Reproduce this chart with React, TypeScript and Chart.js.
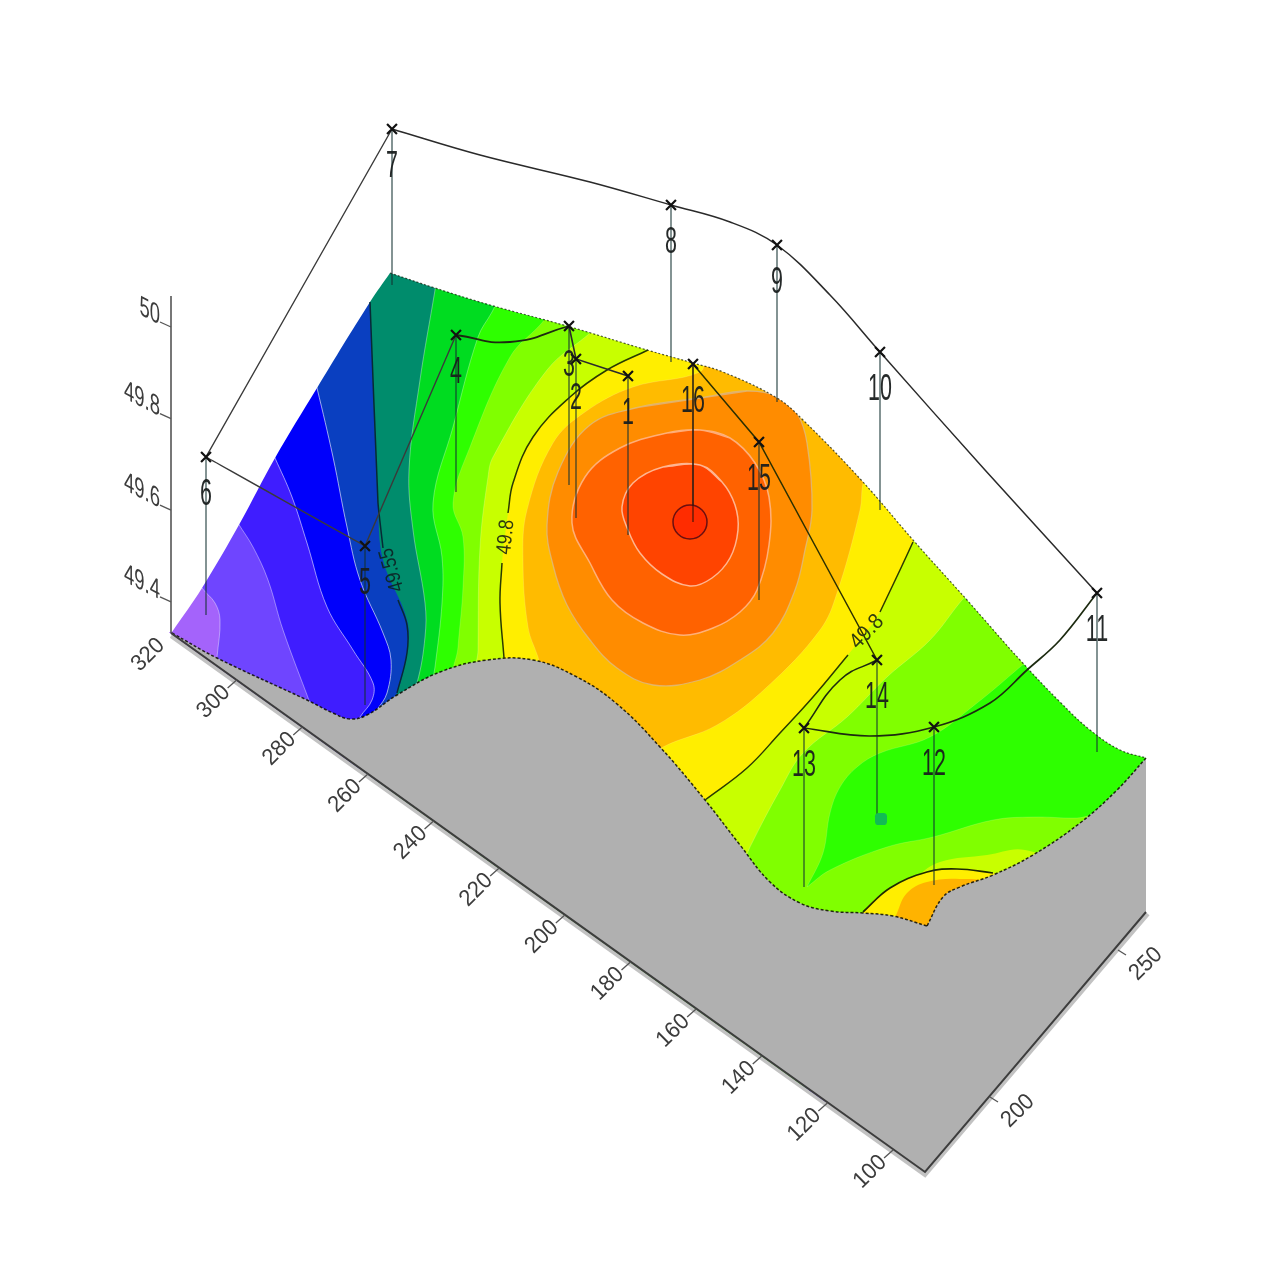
import React, { useEffect, useRef } from "react";
import { Chart, registerables } from "chart.js";

Chart.register(...registerables);

type P = number[];

// ---- Surface outline (projected survey plane) ----
const leftEdge: P[] = [[172, 632], [202, 588], [240, 523], [275, 458], [317, 388], [370, 302], [390, 273]];
const topEdge: P[] = [[390, 273], [435, 288], [490, 305], [567, 326], [647, 350], [693, 363], [723, 372], [777, 398], [803, 420], [863, 482], [913, 540], [967, 600], [1020, 660], [1060, 702], [1090, 730], [1120, 750], [1146, 758]];
const frontEdgeA: P[] = [[172, 633], [217, 658], [307, 700], [333, 713], [350, 719], [367, 715], [397, 695], [440, 672], [487, 660], [533, 660], [577, 677], [617, 704], [660, 747], [705, 800], [740, 845], [770, 882], [800, 903], [830, 911], [863, 913], [893, 916], [927, 926]];
const frontEdgeB: P[] = [[927, 926], [943, 897], [960, 887], [993, 875], [1033, 855], [1080, 823], [1117, 790], [1146, 758]];

// ---- Filled contour bands, lowest level first ----
const plateBand: P[] = [[100, 200], [1200, 200], [1200, 1000], [100, 1000]];
const violetLine: P[] = [[195, 575], [202, 588], [215, 603], [220, 620], [217, 657], [215, 675]];
const indigoLine: P[] = [[228, 505], [238, 523], [253, 547], [268, 580], [283, 630], [310, 703], [318, 725]];
const blueLine: P[] = [[268, 443], [275, 458], [292, 497], [307, 543], [327, 607], [353, 650], [373, 683], [372, 700], [360, 717], [350, 735]];
const navyLine: P[] = [[312, 370], [317, 388], [333, 457], [347, 527], [360, 580], [383, 633], [391, 660], [387, 693], [377, 710], [365, 730]];
const tealLine: P[] = [[369, 280], [370, 302], [378, 503], [383, 560], [407, 620], [407, 653], [397, 693], [385, 715]];
const greenLine: P[] = [[438, 270], [435, 290], [420, 380], [409, 470], [413, 530], [425, 603], [425, 637], [417, 683], [405, 710]];
const brightLine: P[] = [[498, 300], [492, 312], [478, 337], [453, 427], [433, 503], [442, 557], [442, 603], [435, 667], [430, 700]];
const limeBand: P[] = [[548, 315], [540, 325], [510, 357], [470, 447], [453, 503], [463, 537], [463, 587], [458, 647], [455, 690], [700, 1000], [1120, 1000], [1115, 815], [1077, 818], [1033, 817], [993, 820], [933, 837], [887, 847], [830, 870], [807, 887], [807, 887], [823, 853], [830, 813], [840, 787], [857, 767], [880, 753], [930, 737], [977, 703], [1020, 667], [1045, 645], [1060, 200], [548, 200]];
const yellowGreenBand: P[] = [[598, 325], [590, 333], [547, 370], [493, 457], [488, 477], [480, 547], [478, 650], [478, 690], [730, 890], [750, 847], [780, 790], [803, 753], [847, 717], [887, 677], [930, 640], [962, 600], [985, 575], [985, 300], [598, 300]];
const yellowGreenBump: P[] = [[880, 925], [887, 910], [917, 877], [940, 862], [987, 855], [1025, 850], [1060, 870], [1000, 960], [880, 960]];
const contour498A: P[] = [[648, 350], [607, 370], [570, 397], [533, 437], [513, 483], [508, 513]];
const contour498B: P[] = [[502, 563], [500, 603], [504, 658]];
const contour498C: P[] = [[705, 800], [747, 768], [780, 733], [813, 697], [848, 655]];
const contour498D: P[] = [[880, 612], [900, 570], [913, 542]];
const contour498Bump: P[] = [[863, 912], [890, 888], [927, 872], [957, 869], [993, 873]];
const contour4955: P[] = [[370, 302], [378, 503], [383, 548]];
const contour4955B: P[] = [[398, 600], [407, 625], [407, 653], [397, 693]];
const yellowBand: P[] = [[655, 340], [648, 350], [607, 370], [570, 397], [533, 437], [513, 483], [508, 513], [502, 563], [500, 603], [504, 658], [508, 680], [695, 812], [705, 800], [747, 768], [780, 733], [813, 697], [848, 655], [880, 612], [900, 570], [913, 542], [925, 515], [925, 300], [655, 300]];
const yellowBump: P[] = [[860, 925], [863, 912], [890, 888], [927, 872], [957, 869], [993, 873], [1010, 885], [960, 960], [860, 960]];
const amberBand: P[] = [[705, 355], [700, 372], [633, 387], [585, 412], [553, 443], [527, 510], [523, 560], [528, 627], [538, 657], [545, 680], [650, 760], [663, 747], [717, 725], [767, 687], [820, 630], [837, 593], [860, 510], [863, 483], [870, 465], [870, 350], [705, 340]];
const amberBump: P[] = [[893, 925], [897, 913], [907, 893], [927, 882], [960, 879], [985, 885], [960, 960], [893, 960]];
const orangeBand: P[] = [[700, 398], [640, 407], [590, 425], [558, 472], [547, 525], [553, 565], [567, 605], [590, 640], [617, 668], [653, 685], [700, 680], [740, 660], [773, 633], [795, 590], [805, 550], [812, 510], [807, 443], [797, 413], [780, 397], [747, 391]];
const darkOrangeBand: P[] = [[700, 430], [667, 433], [620, 448], [585, 477], [572, 523], [590, 563], [612, 600], [643, 623], [680, 635], [713, 628], [740, 612], [757, 590], [769, 545], [769, 497], [755, 463], [730, 438]];
const redOrangeBand: P[] = [[700, 465], [663, 467], [633, 483], [622, 507], [628, 530], [640, 553], [662, 574], [690, 586], [712, 578], [730, 558], [738, 530], [735, 505], [722, 482]];

// ---- Peak marker ----
const peakX = [690];
const peakY = [522];

// ---- Survey stations: label, position of the cross, foot on the surface ----
const stationLabels = ["1", "2", "3", "4", "5", "6", "7", "8", "9", "10", "11", "12", "13", "14", "15", "16"];
const stationX = [628, 576, 569, 456, 365, 206, 392, 671, 777, 880, 1097, 934, 804, 877, 759, 693];
const stationY = [376, 359, 326, 335, 546, 457, 129, 205, 245, 352, 593, 727, 728, 660, 442, 364];
const stationFootY = [535, 518, 485, 492, 705, 615, 285, 362, 402, 510, 752, 885, 887, 818, 600, 522];

// ---- Route between stations ----
const routeStraightA: P[] = [[628, 376], [576, 359], [569, 326]];
const routeCurveA: P[] = [[569, 326], [510, 342], [456, 335]];
const routeStraightB: P[] = [[456, 335], [365, 546], [206, 457], [392, 129]];
const routeCurveB: P[] = [[392, 129], [480, 155], [590, 182], [671, 205], [730, 222], [777, 245], [830, 295], [880, 352], [985, 470], [1097, 593]];
const routeCurveC: P[] = [[1097, 593], [1060, 640], [1027, 670], [990, 703], [934, 727], [870, 736], [804, 728]];
const routeCurveD: P[] = [[804, 728], [840, 680], [877, 660]];
const routeStraightC: P[] = [[877, 660], [759, 442], [693, 364]];
const footMarkerX = [881];
const footMarkerY = [819];

// ---- Axes ----
const xTickValues = [320, 300, 280, 260, 240, 220, 200, 180, 160, 140, 120, 100];
const yTickValues = [250, 200];
const zTickValues = ["50", "49.8", "49.6", "49.4"];
const contourLabels = ["49.8", "49.8", "49.55"];

const toPts = (p: P[]) => p.map(([x, y]) => ({ x, y }));
const dup = (p: P[]) => [p[0], ...p.slice(0, -1), p[p.length - 1], p[p.length - 1]];
const closeRight = (p: P[]): P[] => [...p, [p[p.length - 1][0], 1000], [1200, 1000], [1200, 150], [p[0][0], 150]];
const loop = (p: P[]): P[] => [p[p.length - 1], ...p, p[0], p[1]];

const area = (path: P[], color: string, stroke = "rgba(255,255,255,0)", width = 1, tension = 0.38) => ({
  data: toPts(path), fill: "shape", backgroundColor: color, borderColor: stroke, borderWidth: width, pointRadius: 0, tension,
});
const line = (path: P[], color: string, width = 1.3, tension = 0.4, dash: number[] = []) => ({
  data: toPts(path), fill: false, borderColor: color, borderWidth: width, pointRadius: 0, tension, borderDash: dash,
});

const xAxisPoint = (v: number) => [171 + ((320 - v) / 20) * 65.64, 633 + ((320 - v) / 20) * 47];
const yAxisPoint = (v: number) => [990 + ((v - 200) / 50) * 128, 1097 - ((v - 200) / 50) * 147];
const zAxisY = (s: string) => 327 + (50 - Number(s)) * 458;

function buildDatasets() {
  const whiteA: P[] = [[0, 0], [0, 0], [0, 632], [0, 632], ...dup(leftEdge), ...dup(topEdge), [1280, 758], [1280, 758], [1280, 0], [1280, 0]];
  const whiteB: P[] = [[0, 628], [0, 628], [165, 628], [165, 628], [171, 634], [171, 634], [925, 1173], [925, 1173], [1146, 912], [1146, 912], [1146, 757], [1146, 757], [1280, 757], [1280, 757], [1280, 1280], [1280, 1280], [0, 1280], [0, 1280]];
  const gray: P[] = [[171, 633], [171, 633], [925, 1172], [925, 1172], [1147, 912], [1147, 912], [1147, 758], [1147, 758],
    ...[...frontEdgeB].reverse(), [927, 926], ...[...frontEdgeA].reverse(), [171, 633]];

  const sets: any[] = [
    area(plateBand, "#a463fb", undefined, 0, 0),
    area(closeRight(violetLine), "#6f45ff", "rgba(255,255,255,.4)"),
    area(closeRight(indigoLine), "#3f1dff", "rgba(255,255,255,.4)"),
    area(closeRight(blueLine), "#0000fb", "rgba(255,255,255,.55)"),
    area(closeRight(navyLine), "#0a3fc0", "rgba(255,255,255,.6)"),
    area(closeRight(tealLine), "#008c6c"),
    area(closeRight(greenLine), "#00dc20", "rgba(255,255,255,.35)"),
    area(closeRight(brightLine), "#2eff00", "rgba(255,255,255,.3)"),
    area(limeBand, "#80ff00", "rgba(255,255,255,.15)"),
    area(yellowGreenBand, "#c8ff00", "rgba(255,255,255,.2)"),
    area(yellowGreenBump, "#c8ff00"),
    area(yellowBand, "#ffee00"),
    area(yellowBump, "#ffee00"),
    area(amberBand, "#ffbb00", "rgba(255,255,255,.15)"),
    area(amberBump, "#ffb300"),
    area(loop(orangeBand), "#ff8c00", "rgba(215,190,150,.7)", 1.3),
    area(loop(darkOrangeBand), "#ff6200", "rgba(255,190,150,.8)", 1.5),
    area(loop(redOrangeBand), "#ff4400", "rgba(255,200,170,.85)", 1.5),
    area(whiteA, "#ffffff", undefined, 0),
    area(gray, "#b0b0b0", undefined, 0),
    area(whiteB, "#ffffff", undefined, 0),
    line(topEdge, "rgba(10,20,0,.7)", 1.2, 0.4, [2, 2]),
    line(frontEdgeA, "rgba(10,10,0,.85)", 1.5, 0.4, [3, 2]),
    line(frontEdgeB, "rgba(10,10,0,.85)", 1.5, 0.4, [3, 2]),
    line(contour498A, "#2a3a00", 1.5),
    line(contour498B, "#2a3a00", 1.5),
    line(contour498C, "#2a3a00", 1.5),
    line(contour498D, "#2a3a00", 1.5),
    line(contour498Bump, "#1d2a00", 1.7),
    line(contour4955, "#072a35", 1.5, 0.1),
    line(contour4955B, "#072a35", 1.5),
  ];

  // Axis lines and ticks
  sets.push(line([[171, 296], [171, 633]], "#555555", 1.6, 0.001));
  sets.push(line([[171, 636], [925, 1175], [1148, 914]], "rgba(120,120,120,.45)", 4, 0.001));
  sets.push(line([[171, 633], [925, 1172], [1146, 912]], "#3d3d3d", 2, 0.001));
  xTickValues.forEach((v) => {
    const [x, y] = xAxisPoint(v);
    if (v !== 320) sets.push(line([[x, y], [x - 9, y + 8]], "#555555", 1.3, 0.001));
  });
  yTickValues.forEach((v) => {
    const [x, y] = yAxisPoint(v);
    sets.push(line([[x, y], [x + 8, y + 5]], "#555555", 1.3, 0.001));
  });
  zTickValues.forEach((s) => {
    const y = zAxisY(s);
    sets.push(line([[171, y], [160, y - 5]], "#555555", 1.3, 0.001));
  });

  // Drop lines
  stationX.forEach((x, i) => {
    sets.push(line([[x, stationY[i]], [x, stationFootY[i]]], "rgba(20,50,50,.75)", 1.4, 0.001));
  });
  // Route
  sets.push(line(routeStraightA, "#2b2b2b", 1.6, 0.001));
  sets.push(line(routeCurveA, "#1c2a10", 1.8, 0.5));
  sets.push(line(routeStraightB, "#3a3a3a", 1.4, 0.001));
  sets.push(line(routeCurveB, "#2a2a2a", 1.5, 0.38));
  sets.push(line(routeCurveC, "#1c2a10", 1.7, 0.38));
  sets.push(line(routeCurveD, "#1c2a10", 1.6, 0.45));
  sets.push(line(routeStraightC, "#2b3000", 1.5, 0.001));

  // Peak circle, foot marker, station crosses
  sets.push({
    data: peakX.map((x, i) => ({ x, y: peakY[i] })), showLine: false, pointRadius: 17,
    pointBackgroundColor: "#ff2c00", pointBorderColor: "#6a1010", pointBorderWidth: 1.5,
  });
  sets.push({
    data: footMarkerX.map((x, i) => ({ x, y: footMarkerY[i] })), showLine: false, pointRadius: 7, pointStyle: "rectRounded",
    pointBackgroundColor: "#12bb55", pointBorderWidth: 0,
  });
  sets.push({
    data: stationX.map((x, i) => ({ x, y: stationY[i] })), showLine: false, pointRadius: 7, pointStyle: "crossRot",
    pointBorderColor: "#111111", pointBorderWidth: 2.2,
  });
  // Re-draw the drop line of the peak above the circle
  sets.push(line([[693, 364], [693, 522]], "rgba(40,20,10,.8)", 1.3, 0.001));

  const n = sets.length;
  return sets.map((s, i) => ({ ...s, order: n - i }));
}

type TextMark = { text: string; x: number; y: number; angle: number; size: number; sx?: number; align?: CanvasTextAlign; color?: string; shear?: boolean };

function buildTexts(): TextMark[] {
  const out: TextMark[] = [];
  const labelDY: Record<string, number> = { "2": 40, "3": 40, "16": 38 };
  stationLabels.forEach((t, i) => {
    out.push({ text: t, x: stationX[i], y: stationY[i] + (labelDY[t] ?? 38), angle: 0, size: 37, sx: 0.58, color: "rgba(25,30,30,.95)" });
  });
  xTickValues.forEach((v) => {
    const [x, y] = xAxisPoint(v);
    out.push({ text: String(v), x: x - 10, y: y + 9, angle: -45, size: 23, sx: 0.95, align: "right", color: "#3c3c3c" });
  });
  yTickValues.forEach((v) => {
    const [x, y] = yAxisPoint(v);
    out.push({ text: String(v), x: x + 28, y: y + 14, angle: -45, size: 23, sx: 0.95, color: "#3c3c3c" });
  });
  zTickValues.forEach((s) => {
    out.push({ text: s, x: 160, y: zAxisY(s) - 10, angle: 27, size: 28, sx: 0.74, align: "right", color: "#3c3c3c", shear: true });
  });
  out.push({ text: contourLabels[0], x: 506, y: 537, angle: -84, size: 21, sx: 0.85, color: "#2f3a10" });
  out.push({ text: contourLabels[1], x: 867, y: 632, angle: -46, size: 22, sx: 0.9, color: "#2f3a10" });
  out.push({ text: contourLabels[2], x: 392, y: 570, angle: -106, size: 21, sx: 0.85, color: "#0c2a2a" });
  return out;
}

const textPlugin = {
  id: "projectedText",
  afterDatasetsDraw(chart: any) {
    const { ctx, scales } = chart;
    buildTexts().forEach((m) => {
      const a = (m.angle * Math.PI) / 180;
      const sx = m.sx ?? 1;
      ctx.save();
      ctx.translate(scales.x.getPixelForValue(m.x), scales.y.getPixelForValue(m.y));
      ctx.transform(Math.cos(a) * sx, Math.sin(a) * sx, m.shear ? 0 : -Math.sin(a), m.shear ? 1 : Math.cos(a), 0, 0);
      ctx.font = `${m.size}px "Liberation Sans"`;
      ctx.fillStyle = m.color ?? "#333333";
      ctx.textAlign = m.align ?? "center";
      ctx.textBaseline = "middle";
      ctx.fillText(m.text, 0, 0);
      ctx.restore();
    });
  },
};

export default function App() {
  const ref = useRef<HTMLCanvasElement | null>(null);
  useEffect(() => {
    document.body.style.margin = "0";
    const chart = new Chart(ref.current as HTMLCanvasElement, {
      type: "line",
      data: { datasets: buildDatasets() as any },
      options: {
        animation: false,
        responsive: false,
        events: [],
        layout: { padding: 0, autoPadding: false },
        plugins: { legend: { display: false }, tooltip: { enabled: false }, title: { display: false } },
        scales: {
          x: { type: "linear", min: 0, max: 1280, display: false },
          y: { type: "linear", min: 0, max: 1280, reverse: true, display: false },
        },
      },
      plugins: [textPlugin],
    });
    return () => chart.destroy();
  }, []);
  return (
    <div style={{ width: 1280, height: 1280, position: "relative" }}>
      <canvas ref={ref} width={1280} height={1280} style={{ position: "absolute", left: 0, top: 0, display: "block" }} />
    </div>
  );
}
